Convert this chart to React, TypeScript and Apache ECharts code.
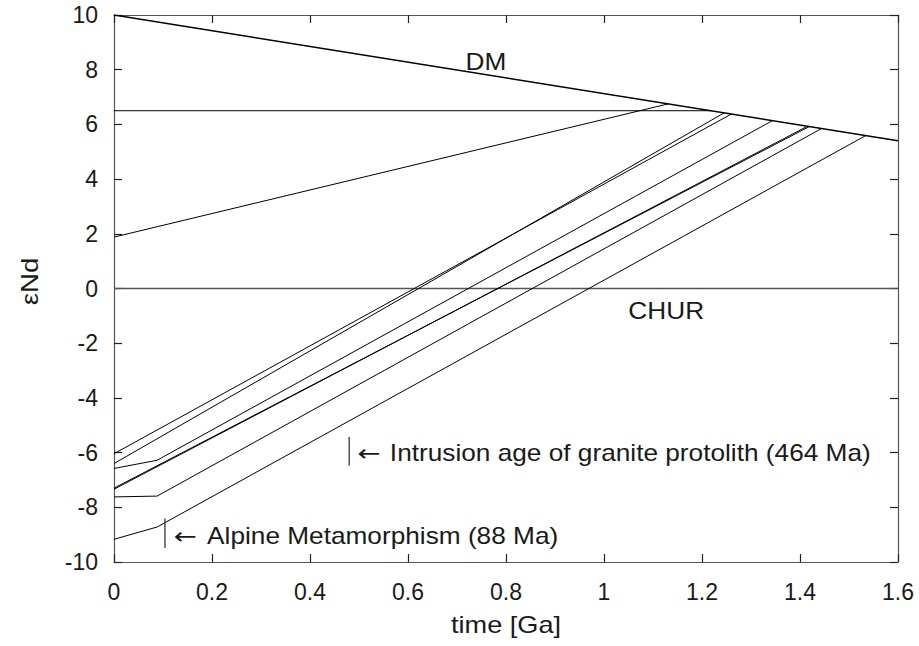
import React, { useEffect, useRef } from "react";
import * as echarts from "echarts";

// Evolution lines (time in Ga, epsilon Nd)
const dmX = [0, 1.6];
const dmY = [10, 5.4];
const churX = [0, 1.6];
const churY = [0, 0];

const lineFlatX = [0, 1.217];
const lineFlatY = [6.5, 6.5];
const line1X = [0, 1.131];
const line1Y = [1.88, 6.75];
const line2X = [0, 1.26];
const line2Y = [-6.04, 6.38];
const line3X = [0, 1.245];
const line3Y = [-6.4, 6.42];
const line4X = [0, 0.088, 1.344];
const line4Y = [-6.58, -6.28, 6.14];
const line5X = [0, 1.419];
const line5Y = [-7.3, 5.92];
const line6X = [0, 1.415];
const line6Y = [-7.34, 5.93];
const line7X = [0, 0.088, 1.444];
const line7Y = [-7.62, -7.59, 5.85];
const line8X = [0, 0.088, 1.534];
const line8Y = [-9.17, -8.72, 5.59];

// Age markers
const markerX = [0.48, 0.104];
const markerY0 = [-5.43, -8.41];
const markerY1 = [-6.47, -9.49];
const arrowX = [0.497, 0.122];
const markerTextX = [0.563, 0.19];
const markerTextY = [-6.0, -9.05];
const markerTexts = ["Intrusion age of granite protolith (464 Ma)", "Alpine Metamorphism (88 Ma)"];

// Curve labels
const curveLabels = ["DM", "CHUR"];
const curveLabelX = [0.759, 1.127];
const curveLabelY = [8.27, -0.84];

const xTitle = "time [Ga]";
const yTitle = "\u03b5Nd";

const xMin = 0;
const xMax = 1.6;
const xStep = 0.2;
const yMin = -10;
const yMax = 10;
const yStep = 2;

const FONT = "'Liberation Sans', Arial, Helvetica, sans-serif";
const FS = 23;
const TXT = "#1a1a1a";
const SX = 1.14;

const pairs = (xs: number[], ys: number[]) => xs.map((x, i) => [x, ys[i]]);

export default function App() {
  const ref = useRef<HTMLDivElement>(null);
  useEffect(() => {
    if (!ref.current) return;
    const chart = echarts.init(ref.current, null, { renderer: "svg" });
    const lineSeries = (xs: number[], ys: number[], color = "#000", width = 1) => ({
      type: "line",
      data: pairs(xs, ys),
      symbol: "none",
      silent: true,
      lineStyle: { color, width },
      z: 3,
    });
    const axisCommon = {
      axisLine: { show: true, onZero: false, lineStyle: { color: "#555", width: 1.2 } },
      axisTick: { show: true, inside: true, length: 8, lineStyle: { color: "#222", width: 1.2 } },
      splitLine: { show: false },
    };
    const labelStyle = { color: TXT, fontFamily: FONT, fontSize: FS };
    chart.setOption({
      animation: false,
      backgroundColor: "#fff",
      grid: { left: 114, top: 15, right: 21, bottom: 84, containLabel: false },
      xAxis: [
        {
          type: "value",
          min: xMin,
          max: xMax,
          interval: xStep,
          position: "bottom",
          axisLabel: { ...labelStyle, margin: 18 },
          ...axisCommon,
        },
        {
          type: "value",
          min: xMin,
          max: xMax,
          interval: xStep,
          position: "top",
          axisLabel: { show: false },
          ...axisCommon,
        },
      ],
      yAxis: [
        {
          type: "value",
          min: yMin,
          max: yMax,
          interval: yStep,
          position: "left",
          axisLabel: { ...labelStyle, margin: 16 },
          ...axisCommon,
        },
        {
          type: "value",
          min: yMin,
          max: yMax,
          interval: yStep,
          position: "right",
          axisLabel: { show: false },
          ...axisCommon,
        },
      ],
      series: [
        lineSeries(churX, churY, "#555", 1.6),
        lineSeries(dmX, dmY, "#000", 1.6),
        lineSeries(lineFlatX, lineFlatY),
        lineSeries(line1X, line1Y),
        lineSeries(line2X, line2Y),
        lineSeries(line3X, line3Y),
        lineSeries(line4X, line4Y),
        lineSeries(line5X, line5Y),
        lineSeries(line6X, line6Y),
        lineSeries(line7X, line7Y),
        lineSeries(line8X, line8Y),
        ...markerX.map((x, i) => ({
          type: "line",
          data: [
            [x, markerY0[i]],
            [x, markerY1[i]],
          ],
          symbol: "none",
          silent: true,
          lineStyle: { color: "#333", width: 1.3 },
        })),
      ],
    });

    const px = (x: number, y: number) =>
      chart.convertToPixel({ xAxisIndex: 0, yAxisIndex: 0 }, [x, y]) as number[];
    const txt = (
      text: string,
      p: number[],
      align: string,
      opts: Record<string, unknown> = {},
      family = FONT,
      scaleX = SX
    ) => ({
      type: "text",
      x: p[0],
      y: p[1],
      scaleX,
      silent: true,
      z: 10,
      ...opts,
      style: {
        text,
        fill: TXT,
        fontFamily: family,
        fontSize: FS,
        align,
        verticalAlign: "middle",
        textAlign: align,
        textVerticalAlign: "middle",
      },
    });
    const graphics: any[] = [];
    curveLabels.forEach((t, i) => graphics.push(txt(t, px(curveLabelX[i], curveLabelY[i]), "center")));
    markerTexts.forEach((t, i) => {
      graphics.push(txt(t, px(markerTextX[i], markerTextY[i]), "left"));
      graphics.push(
        txt("\u2190", px(arrowX[i], markerTextY[i]), "left", {}, "'DejaVu Sans', sans-serif", 1.2)
      );
    });
    const bottomLeft = px(xMin, yMin);
    const mid = px((xMin + xMax) / 2, (yMin + yMax) / 2);
    graphics.push(txt(xTitle, [mid[0], bottomLeft[1] + 63], "center", {}, FONT, 1.18));
    graphics.push(
      txt(yTitle, [bottomLeft[0] - 84, mid[1] - 7], "center", { rotation: Math.PI / 2 }, FONT, 1.2)
    );
    chart.setOption({ graphic: graphics });
    return () => chart.dispose();
  }, []);
  return (
    <div
      ref={ref}
      style={{ position: "fixed", left: 0, top: 0, width: 919, height: 646, background: "#fff" }}
    />
  );
}
